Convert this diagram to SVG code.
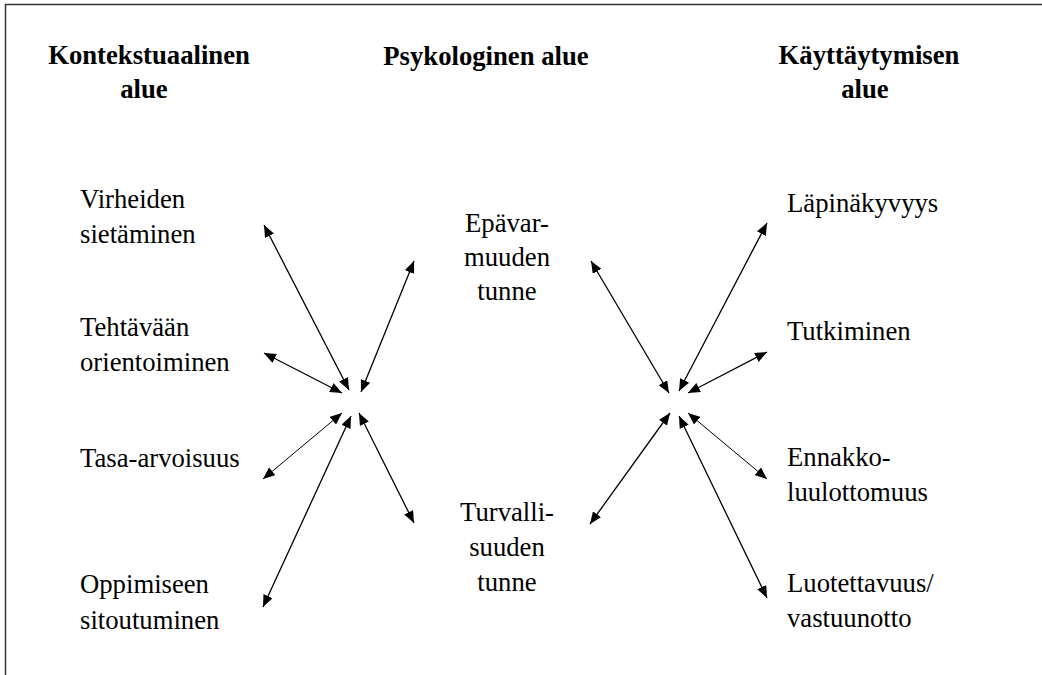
<svg xmlns="http://www.w3.org/2000/svg" width="1042" height="675" viewBox="0 0 1042 675">
  <style>
    .h { font-weight: bold; }
    .c { text-anchor: middle; }
    .a { stroke: #000; stroke-width: 1.3; fill: none; marker-start: url(#tip); marker-end: url(#tip); }
    .thin { stroke-width: 1; }
  </style>
  <defs>
    <marker id="tip" markerUnits="userSpaceOnUse" markerWidth="13" markerHeight="10" refX="12" refY="5" orient="auto-start-reverse">
      <path d="M0,0 L12,5 L0,10 z" fill="#000"/>
    </marker>
  </defs>
  <rect width="1042" height="675" fill="#fff"/>
  <!-- frame -->
  <path d="M5.5,675 V4.5 H1042" stroke="#333" stroke-width="1.5" fill="none"/>

  <g font-family="Liberation Serif, Times New Roman, DejaVu Serif, serif" font-size="26.7" fill="#000">
  <!-- column headings -->
  <g id="head-context">
    <text class="h c" x="149" y="64">Kontekstuaalinen</text>
    <text class="h c" x="144" y="98">alue</text>
  </g>
  <g id="head-psych">
    <text class="h c" x="486" y="65">Psykologinen alue</text>
  </g>
  <g id="head-behav">
    <text class="h c" x="869" y="64">Käyttäytymisen</text>
    <text class="h c" x="865" y="98">alue</text>
  </g>

  <!-- contextual factors -->
  <g id="n-virheiden">
    <text x="80" y="208">Virheiden</text>
    <text x="80" y="243">sietäminen</text>
  </g>
  <g id="n-tehtavaan">
    <text x="80" y="336">Tehtävään</text>
    <text x="80" y="371">orientoiminen</text>
  </g>
  <g id="n-tasa">
    <text x="80" y="467">Tasa-arvoisuus</text>
  </g>
  <g id="n-oppimiseen">
    <text x="80" y="593">Oppimiseen</text>
    <text x="80" y="629">sitoutuminen</text>
  </g>

  <!-- psychological states -->
  <g id="n-epavarmuus">
    <text class="c" x="507" y="232">Epävar-</text>
    <text class="c" x="507" y="266">muuden</text>
    <text class="c" x="507" y="300">tunne</text>
  </g>
  <g id="n-turvallisuus">
    <text class="c" x="507" y="521">Turvalli-</text>
    <text class="c" x="507" y="556">suuden</text>
    <text class="c" x="507" y="591">tunne</text>
  </g>

  <!-- behavioural outcomes -->
  <g id="n-lapinakyvyys">
    <text x="787" y="212">Läpinäkyvyys</text>
  </g>
  <g id="n-tutkiminen">
    <text x="787" y="340">Tutkiminen</text>
  </g>
  <g id="n-ennakko">
    <text x="787" y="466">Ennakko-</text>
    <text x="787" y="501">luulottomuus</text>
  </g>
  <g id="n-luotettavuus">
    <text x="787" y="592">Luotettavuus/</text>
    <text x="787" y="627">vastuunotto</text>
  </g>
  </g>

  <!-- two-way connectors -->
  <g id="connectors">
    <line class="a" x1="264" y1="225" x2="349" y2="390"/>
    <line class="a" x1="264" y1="353" x2="342" y2="393"/>
    <line class="a" x1="414" y1="261" x2="361" y2="392"/>
    <line class="a thin" x1="263" y1="479" x2="342" y2="413"/>
    <line class="a" x1="263" y1="607" x2="351" y2="416"/>
    <line class="a" x1="414" y1="523" x2="359" y2="413"/>

    <line class="a" x1="591" y1="261" x2="669" y2="393"/>
    <line class="a" x1="767" y1="223" x2="679" y2="391"/>
    <line class="a" x1="767" y1="352" x2="688" y2="393"/>
    <line class="a" x1="590" y1="524" x2="670" y2="413"/>
    <line class="a thin" x1="767" y1="479" x2="688" y2="413"/>
    <line class="a" x1="767" y1="598" x2="679" y2="416"/>
  </g>
</svg>
